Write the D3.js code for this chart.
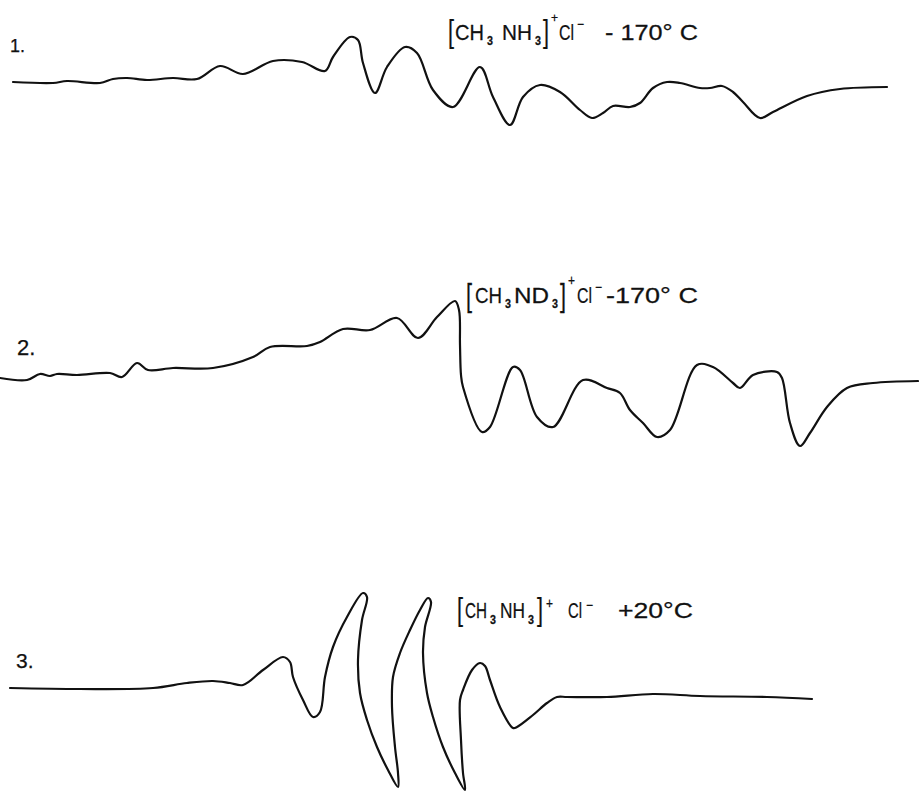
<!DOCTYPE html>
<html>
<head>
<meta charset="utf-8">
<script src="https://cdn.jsdelivr.net/npm/d3@7"></script>
<style>
  html, body { margin: 0; padding: 0; background: #fff; }
  svg { display: block; }
  text { font-family: "Liberation Sans", Arial, sans-serif; fill: #111; stroke: #111; stroke-width: 0.25px; }
</style>
</head>
<body>
<svg id="chart" width="919" height="793"></svg>
<script>
// ---- Data: field position (arb. units) and derivative signal (arb. units, + up) ----
const trace1Field  = [13,53,67,100,113,127,147,173,197,220,243,273,302,325,333,350,358,363,375,387,405,417,433,453,480,493,510,523,540,560,580,592,603,613,630,640,653,667,680,700,710,722,733,743,760,773,807,840,887];
const trace1Signal = [1,0,2,0,4,5,3,5,4,17,9,22,21,12,26,46,43,20,-10,16,36,30,-7,-24,16,-14,-42,-14,-2,-9,-27,-35,-30,-23,-24,-20,-5,1,0,-5,-5,-3,-9,-19,-35,-29,-13,-6,-4];

const trace2Field  = [0,27,40,50,57,77,110,122,137,148,173,213,253,270,307,320,343,370,397,418,437,455,459,460,461,463,482,490,513,520,537,553,583,607,620,630,643,657,670,697,713,733,740,753,777,782,790,800,810,827,847,873,918];
const trace2Signal = [0,-2,4,2,4,3,5,1,15,8,10,10,21,31,32,36,49,48,60,40,61,77,68,33,3,-9,-54,-49,11,8,-39,-49,-2,-10,-15,-32,-45,-59,-52,13,11,-5,-10,3,6,0,-45,-68,-55,-29,-10,-5,-3];

const trace3Field  = [10,80,153,187,213,230,243,263,283,290,293,303,313,320,325,333,347,363,367,362,358,360,367,377,388,398,398,395,392,393,400,410,420,428,431,425,423,427,433,443,455,465,463,461,460,463,472,480,485,490,500,513,517,533,547,557,567,607,653,700,767,812];
const trace3Signal = [0,-1,0,5,7,5,3,18,31,26,11,-12,-29,-24,11,41,71,95,91,68,28,-5,-32,-59,-82,-99,-85,-59,-19,11,35,58,78,90,86,61,35,-5,-29,-59,-85,-102,-85,-52,-12,-2,18,25,22,8,-19,-40,-39,-27,-15,-9,-9,-9,-6,-8,-9,-11];

const panelNumbers = ["1.", "2.", "3."];
const sampleNames  = ["NH", "ND", "NH"];
const temperatures = ["- 170° C", "-170° C", "+20°C"];

// ---- Layout ----
const W = 919, H = 793;
const svg = d3.select("#chart");
svg.append("rect").attr("width", W).attr("height", H).attr("fill", "#fff");

const x = d3.scaleLinear().domain([0, 919]).range([0, 919]);
const baselines = [83, 378, 688];
const yScales = baselines.map(b => d3.scaleLinear().domain([-100, 100]).range([b + 100, b - 100]));

const traces = [
  {f: trace1Field, s: trace1Signal},
  {f: trace2Field, s: trace2Signal},
  {f: trace3Field, s: trace3Signal}
];

traces.forEach((t, i) => {
  const pts = t.f.map((v, k) => [v, t.s[k]]);
  const line = d3.line()
    .x(d => x(d[0]))
    .y(d => yScales[i](d[1]))
    .curve(d3.curveCatmullRom.alpha(0.5));
  svg.append("path")
    .datum(pts)
    .attr("d", line)
    .attr("fill", "none")
    .attr("stroke", "#111")
    .attr("stroke-width", 2.2)
    .attr("stroke-linejoin", "round")
    .attr("stroke-linecap", "round");
});

// ---- Panel numbers ----
const numPos = [{x: 10, y: 52, s: 18}, {x: 17, y: 355, s: 22}, {x: 16, y: 668, s: 21}];
panelNumbers.forEach((n, i) => {
  svg.append("text").attr("x", numPos[i].x).attr("y", numPos[i].y)
    .attr("font-size", numPos[i].s).text(n);
});

// ---- Compound labels: each piece horizontally condensed to the lettering width ----
function label(segs) {
  const g = svg.append("g");
  segs.forEach(s => {
    const t = g.append("text")
      .attr("x", 0).attr("y", 0)
      .attr("font-size", s.size)
      .text(s.t);
    if (s.weight) t.attr("font-weight", s.weight);
    const nat = t.node().getComputedTextLength() || 1;
    const k = s.w ? s.w / nat : 1;
    t.attr("transform", `translate(${s.x},${s.y}) scale(${k},1)`);
  });
}

// Label 1
label([
  {t: "[", x: 448, y: 42, size: 32, w: 6},
  {t: "CH", x: 455, y: 40, size: 22, w: 29},
  {t: "3", x: 487, y: 45, size: 12, w: 6, weight: "bold"},
  {t: sampleNames[0], x: 502, y: 40, size: 22, w: 30},
  {t: "3", x: 535, y: 45, size: 12, w: 6, weight: "bold"},
  {t: "]", x: 543, y: 42, size: 32, w: 6},
  {t: "+", x: 551, y: 22, size: 13, w: 7},
  {t: "Cl", x: 559, y: 40, size: 22, w: 15},
  {t: "−", x: 577, y: 29, size: 14, w: 7},
  {t: temperatures[0], x: 605, y: 40, size: 22, w: 93}
]);

// Label 2
label([
  {t: "[", x: 466, y: 306, size: 31, w: 6},
  {t: "CH", x: 475, y: 303, size: 22, w: 27},
  {t: "3", x: 505, y: 308, size: 12, w: 6, weight: "bold"},
  {t: sampleNames[1], x: 514, y: 303, size: 22, w: 35},
  {t: "3", x: 552, y: 308, size: 12, w: 6, weight: "bold"},
  {t: "]", x: 560, y: 306, size: 31, w: 6},
  {t: "+", x: 568, y: 285, size: 14, w: 7},
  {t: "Cl", x: 577, y: 303, size: 22, w: 15},
  {t: "−", x: 595, y: 292, size: 14, w: 7},
  {t: temperatures[1], x: 606, y: 303, size: 22, w: 92}
]);

// Label 3
label([
  {t: "[", x: 457, y: 620, size: 32, w: 6},
  {t: "CH", x: 465, y: 618, size: 22, w: 22},
  {t: "3", x: 490, y: 624, size: 12, w: 6, weight: "bold"},
  {t: sampleNames[2], x: 500, y: 618, size: 22, w: 25},
  {t: "3", x: 528, y: 624, size: 12, w: 6, weight: "bold"},
  {t: "]", x: 537, y: 620, size: 32, w: 6},
  {t: "+", x: 546, y: 608, size: 14, w: 7},
  {t: "Cl", x: 568, y: 618, size: 22, w: 14},
  {t: "−", x: 586, y: 610, size: 14, w: 7},
  {t: temperatures[2], x: 618, y: 618, size: 22, w: 75}
]);
</script>
</body>
</html>
